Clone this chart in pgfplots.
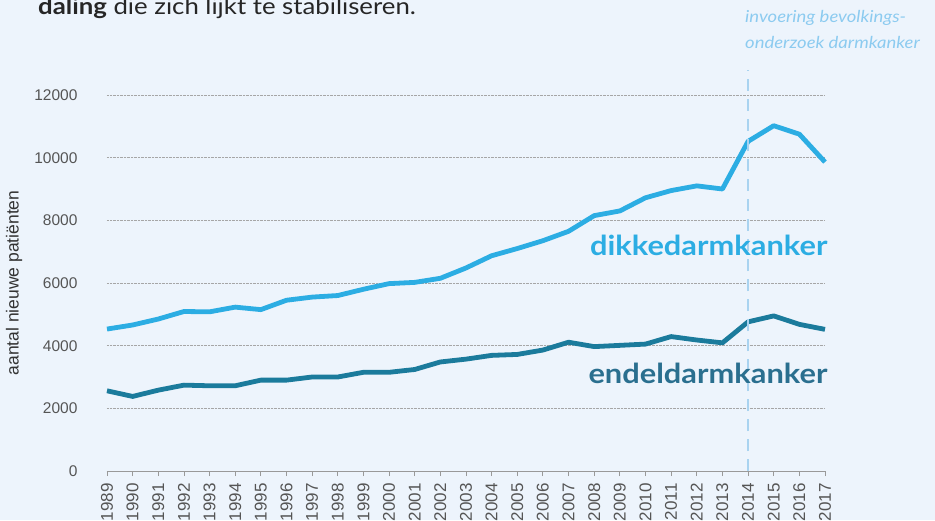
\documentclass[border=0pt]{standalone}
\usepackage{fontspec}
\setmainfont{Liberation Sans}
\newfontfamily\lato{Lato}[FakeStretch=1.12]
\usepackage{pgfplots}
\pgfplotsset{compat=1.18}
\definecolor{bg}{HTML}{EDF4FC}
\definecolor{dikke}{HTML}{2CADE3}
\definecolor{endel}{HTML}{1B7B9C}
\definecolor{endeltxt}{HTML}{2A6F8F}
\definecolor{dashcol}{HTML}{A9D3F0}
\definecolor{annot}{HTML}{8CCBF0}
\definecolor{ticktxt}{HTML}{555555}

\pgfplotstableread{
year dikke endel
1989 4530 2560
1990 4660 2380
1991 4850 2580
1992 5090 2740
1993 5080 2720
1994 5230 2720
1995 5150 2900
1996 5450 2900
1997 5550 3000
1998 5600 3000
1999 5800 3150
2000 5980 3150
2001 6020 3240
2002 6150 3480
2003 6480 3570
2004 6870 3690
2005 7100 3720
2006 7350 3860
2007 7650 4110
2008 8150 3970
2009 8300 4010
2010 8720 4050
2011 8950 4290
2012 9100 4180
2013 9000 4090
2014 10520 4760
2015 11020 4950
2016 10750 4680
2017 9860 4520
}\data

\begin{document}
\begin{tikzpicture}[x=1pt,y=1pt]
\fill[bg] (-107,-49) rectangle (828,471);
\path[use as bounding box] (-107,-49) rectangle (828,471);
\begin{axis}[
  at={(0,0)}, anchor=south west,
  scale only axis, width=718pt, height=376pt,
  xmin=1989, xmax=2017, ymin=0, ymax=12000,
  axis x line=bottom, axis y line=left,
  x axis line style={draw=gray!80, line width=0.8pt, -},
  y axis line style={draw=none},
  xtick={1989,...,2017},
  ytick={0,2000,...,12000},
  scaled y ticks=false,
  xticklabel style={rotate=90, anchor=east, font=\fontsize{17}{17}\selectfont, text=ticktxt},
  xticklabel shift=4pt,
  yticklabel style={font=\fontsize{15.5}{15.5}\selectfont, text=ticktxt, xshift=-21pt},
  /pgf/number format/assume math mode=true,
  /pgf/number format/1000 sep={},
  tick align=outside,
  xtick style={draw=gray!80, line width=0.8pt},
  major tick length=5pt,
  ytick style={draw=none},
  ymajorgrids=true,
  grid style={densely dotted, gray!70, line width=0.8pt},
  clip=false,
]
\addplot[dikke, line width=4.8pt, line join=round] table[x=year,y=dikke] {\data};
\addplot[endel, line width=4.8pt, line join=round] table[x=year,y=endel] {\data};
\draw[dashcol, line width=2.5pt, dash pattern=on 12pt off 8pt] (axis cs:2014,0) -- (axis cs:2014,12800);
\node[anchor=base east, inner sep=0pt, text=dikke, font=\lato\bfseries\fontsize{27.5}{27.5}\selectfont] at (axis cs:2017.1,6890) {dikkedarmkanker};
\node[anchor=base east, inner sep=0pt, text=endeltxt, font=\lato\bfseries\fontsize{27.5}{27.5}\selectfont] at (axis cs:2017.1,2780) {endeldarmkanker};
\end{axis}
\node[rotate=90, anchor=center, inner sep=0pt, font=\fontsize{17.5}{17.5}\selectfont, text=black!80] at (-93,188) {aantal nieuwe patiënten};
\node[anchor=base west, inner sep=0pt, font=\lato\fontsize{23}{23}\selectfont, text=black!85] at (-69,456) {\textbf{daling} die zich lijkt te stabiliseren.};
\node[anchor=base west, inner sep=0pt, font=\lato\itshape\fontsize{16.5}{16.5}\selectfont, text=annot] at (638,448) {invoering bevolkings-};
\node[anchor=base west, inner sep=0pt, font=\lato\itshape\fontsize{16.5}{16.5}\selectfont, text=annot] at (638,422) {onderzoek darmkanker};
\end{tikzpicture}
\end{document}
